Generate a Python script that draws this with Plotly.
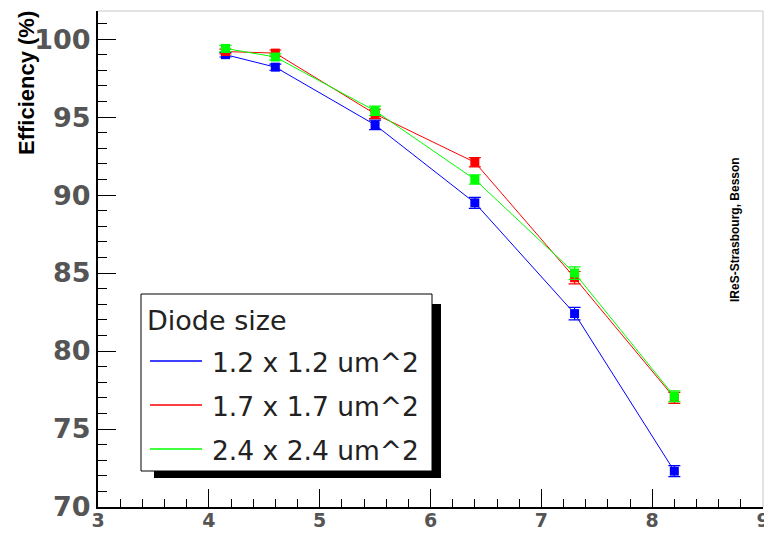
import plotly.graph_objects as go

# ---- data ----
x_vals = [4.15, 4.6, 5.5, 6.4, 7.3, 8.2]
eff_12 = [99.0, 98.2, 94.5, 89.5, 82.4, 72.3]
eff_17 = [99.2, 99.1, 95.2, 92.1, 84.7, 77.0]
eff_24 = [99.4, 98.85, 95.4, 91.0, 85.0, 77.1]
err_12 = [0.15, 0.2, 0.3, 0.35, 0.4, 0.35]
err_17 = [0.15, 0.2, 0.3, 0.3, 0.4, 0.35]
err_24 = [0.2, 0.2, 0.3, 0.3, 0.4, 0.35]
series_names = ["1.2 x 1.2 um^2", "1.7 x 1.7 um^2", "2.4 x 2.4 um^2"]
series_colors = ["#0000ff", "#ff0000", "#00ff00"]
legend_title = "Diode size"
y_title = "Efficiency (%)"
credit = "IReS-Strasbourg, Besson"

W, H = 764, 533
L, R, T, B = 98, 1, 11, 26
PW, PH = W - L - R, H - T - B


def px(xp):
    return (xp - L) / PW


def py(yp):
    return (H - B - yp) / PH


fig = go.Figure()
for ys, es, name, col in zip([eff_12, eff_17, eff_24], [err_12, err_17, err_24],
                             series_names, series_colors):
    fig.add_trace(go.Scatter(
        x=x_vals, y=ys, mode="lines+markers", name=name,
        line=dict(color=col, width=1),
        marker=dict(symbol="square", size=9, color=col),
        error_y=dict(type="data", array=es, width=6, thickness=1.2, color=col),
        showlegend=False,
    ))

tickfont_y = dict(family="DejaVu Sans", size=27, color="#555555", weight="bold")
tickfont_x = dict(family="DejaVu Sans", size=19, color="#555555", weight="bold")

fig.update_layout(
    width=W, height=H,
    margin=dict(l=L, r=R, t=T, b=B, pad=0, autoexpand=False),
    paper_bgcolor="white", plot_bgcolor="white",
    xaxis=dict(range=[3, 9], dtick=1, tick0=3, ticks="inside", ticklen=18,
               tickwidth=1, tickcolor="black", showline=True, linecolor="black",
               linewidth=2, showgrid=False, zeroline=False, tickfont=tickfont_x,
               ticklabeloverflow="allow", automargin=False, ticklabelstandoff=-5,
               minor=dict(ticks="inside", ticklen=8, dtick=0.2, tickcolor="black", tickwidth=1)),
    yaxis=dict(range=[70, 101.8], dtick=5, tick0=70, ticks="inside", ticklen=18,
               tickwidth=1, tickcolor="black", showline=True, linecolor="black",
               linewidth=2, showgrid=False, zeroline=False, tickfont=tickfont_y,
               ticklabeloverflow="allow", automargin=False,
               minor=dict(ticks="inside", ticklen=9, dtick=1, tickcolor="black", tickwidth=1)),
)

shapes = []
# top and right frame lines (light gray)
shapes.append(dict(type="line", xref="paper", yref="paper", x0=0, x1=1, y0=1, y1=1,
                   line=dict(color="#c8c8c8", width=1)))
shapes.append(dict(type="line", xref="paper", yref="paper", x0=1, x1=1, y0=0, y1=1,
                   line=dict(color="#c8c8c8", width=1)))
# legend shadow and box
shapes.append(dict(type="rect", xref="paper", yref="paper",
                   x0=px(154), x1=px(441), y0=py(478), y1=py(304),
                   fillcolor="black", line=dict(width=0)))
shapes.append(dict(type="rect", xref="paper", yref="paper",
                   x0=px(141), x1=px(432), y0=py(471), y1=py(294),
                   fillcolor="white", line=dict(color="black", width=1)))
anns = []
anns.append(dict(xref="paper", yref="paper", x=px(145), y=py(320), text=legend_title,
                 showarrow=False, xanchor="left", yanchor="middle",
                 font=dict(family="DejaVu Sans", size=27, color="#222222")))
for i, (name, col) in enumerate(zip(series_names, series_colors)):
    yy = [361, 405, 449][i]
    shapes.append(dict(type="line", xref="paper", yref="paper",
                       x0=px(150), x1=px(202), y0=py(yy), y1=py(yy),
                       line=dict(color=col, width=1.5)))
    anns.append(dict(xref="paper", yref="paper", x=px(210), y=py(yy + 1), text=name,
                     showarrow=False, xanchor="left", yanchor="middle",
                     font=dict(family="DejaVu Sans", size=26.5, color="#222222")))

anns.append(dict(xref="paper", yref="paper", x=px(27), y=py(83), text="<b>" + y_title + "</b>",
                 showarrow=False, xanchor="center", yanchor="middle", textangle=-90,
                 font=dict(family="Liberation Sans", size=22, color="black")))
anns.append(dict(xref="paper", yref="paper", x=px(735), y=py(230), text="<b>" + credit + "</b>",
                 showarrow=False, xanchor="center", yanchor="middle", textangle=-90,
                 font=dict(family="Liberation Sans", size=12, color="black")))

fig.update_layout(shapes=shapes, annotations=anns)
fig.write_html("out.html")
